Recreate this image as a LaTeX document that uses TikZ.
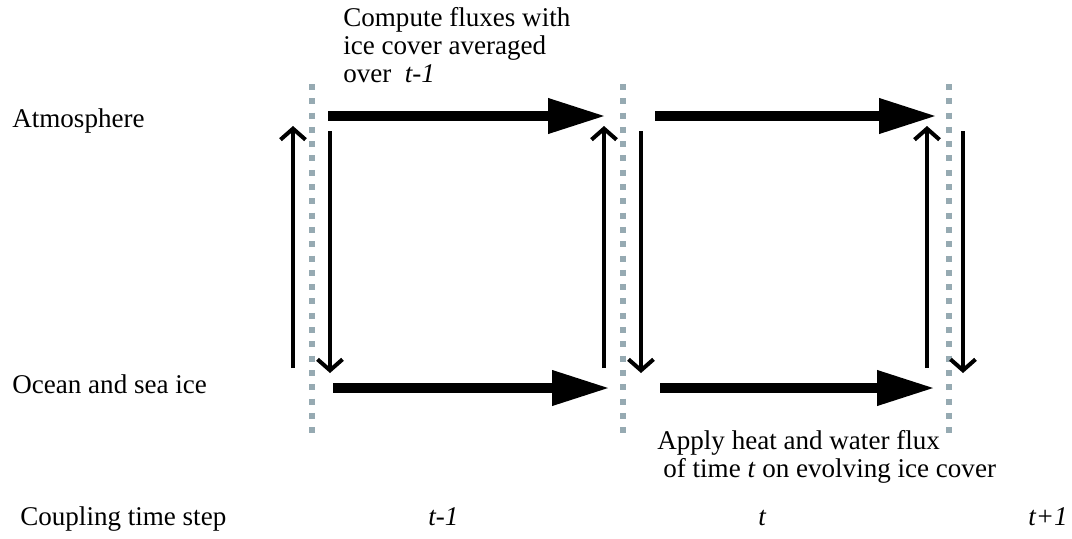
\documentclass[tikz,border=0pt]{standalone}
\usepackage{fontspec}
\setmainfont{Liberation Serif}
\usetikzlibrary{arrows.meta}
\definecolor{stepgray}{RGB}{150,170,178}

\begin{document}
\begin{tikzpicture}[x=0.02cm,y=-0.02cm,
		lbl/.style={anchor=base west, inner sep=0pt, font=\fontsize{15.4}{15.7}\selectfont},
		bigarrow/.style={line width=0.2cm, -{Triangle[length=1.16cm,width=0.66cm]}},
		thinarrow/.style={line width=0.08cm, -{Straight Barb[length=0.22cm,width=0.5cm]}},
		stepline/.style={stepgray, line width=0.12cm, dash pattern=on 0.12cm off 0.166cm}]
		\useasboundingbox (0,0) rectangle (1072,538);

		% row and time labels
		\draw (12,127) node[lbl] (atm) {Atmosphere};
		\draw (12,393) node[lbl] (ocean) {Ocean and sea ice};
		\draw (20,525) node[lbl] (cpl) {Coupling time step};

		\draw (428,525) node[lbl] (tm1) {\textit{t-1}};
		\draw (758,525) node[lbl] (t0) {\textit{t}};
		\draw (1028,525) node[lbl] (tp1) {\textit{t+1}};

		% base anchor sits on the last line
		\draw (343,82) node[lbl, align=left] (compute) {Compute fluxes with\\ice cover averaged\\over \ \textit{t-1}};
		\draw (657,477) node[lbl, align=left] (apply) {Apply heat and water flux\\\hspace{0.12cm}of time \textit{t} on evolving ice cover};

		% coupling instants
		\coordinate (s1top) at (312,84);
		\coordinate (s1bot) at (312,433);
		\coordinate (s2top) at (623,84);
		\coordinate (s2bot) at (623,433);
		\coordinate (s3top) at (949,84);
		\coordinate (s3bot) at (949,433);

		\draw [stepline] (s1top) -- (s1bot);
		\draw [stepline] (s2top) -- (s2bot);
		\draw [stepline] (s3top) -- (s3bot);

		% time integration
		\coordinate (atm1a) at (328,116);
		\coordinate (atm1b) at (606,116);
		\coordinate (atm2a) at (655,116);
		\coordinate (atm2b) at (937,116);
		\coordinate (oce1a) at (333,388);
		\coordinate (oce1b) at (610,388);
		\coordinate (oce2a) at (660,388);
		\coordinate (oce2b) at (935,388);

		\draw [bigarrow] (atm1a) -- (atm1b);
		\draw [bigarrow] (atm2a) -- (atm2b);
		\draw [bigarrow] (oce1a) -- (oce1b);
		\draw [bigarrow] (oce2a) -- (oce2b);

		% exchanges
		\coordinate (up1a) at (293,368);
		\coordinate (up1b) at (293,126);
		\coordinate (up2a) at (604,368);
		\coordinate (up2b) at (604,126);
		\coordinate (up3a) at (927,368);
		\coordinate (up3b) at (927,126);
		\coordinate (dn1a) at (330,131);
		\coordinate (dn1b) at (330,373);
		\coordinate (dn2a) at (641,131);
		\coordinate (dn2b) at (641,373);
		\coordinate (dn3a) at (963,131);
		\coordinate (dn3b) at (963,373);

		\draw [thinarrow] (up1a) -- (up1b);
		\draw [thinarrow] (up2a) -- (up2b);
		\draw [thinarrow] (up3a) -- (up3b);
		\draw [thinarrow] (dn1a) -- (dn1b);
		\draw [thinarrow] (dn2a) -- (dn2b);
		\draw [thinarrow] (dn3a) -- (dn3b);
	\end{tikzpicture}
\end{document}
